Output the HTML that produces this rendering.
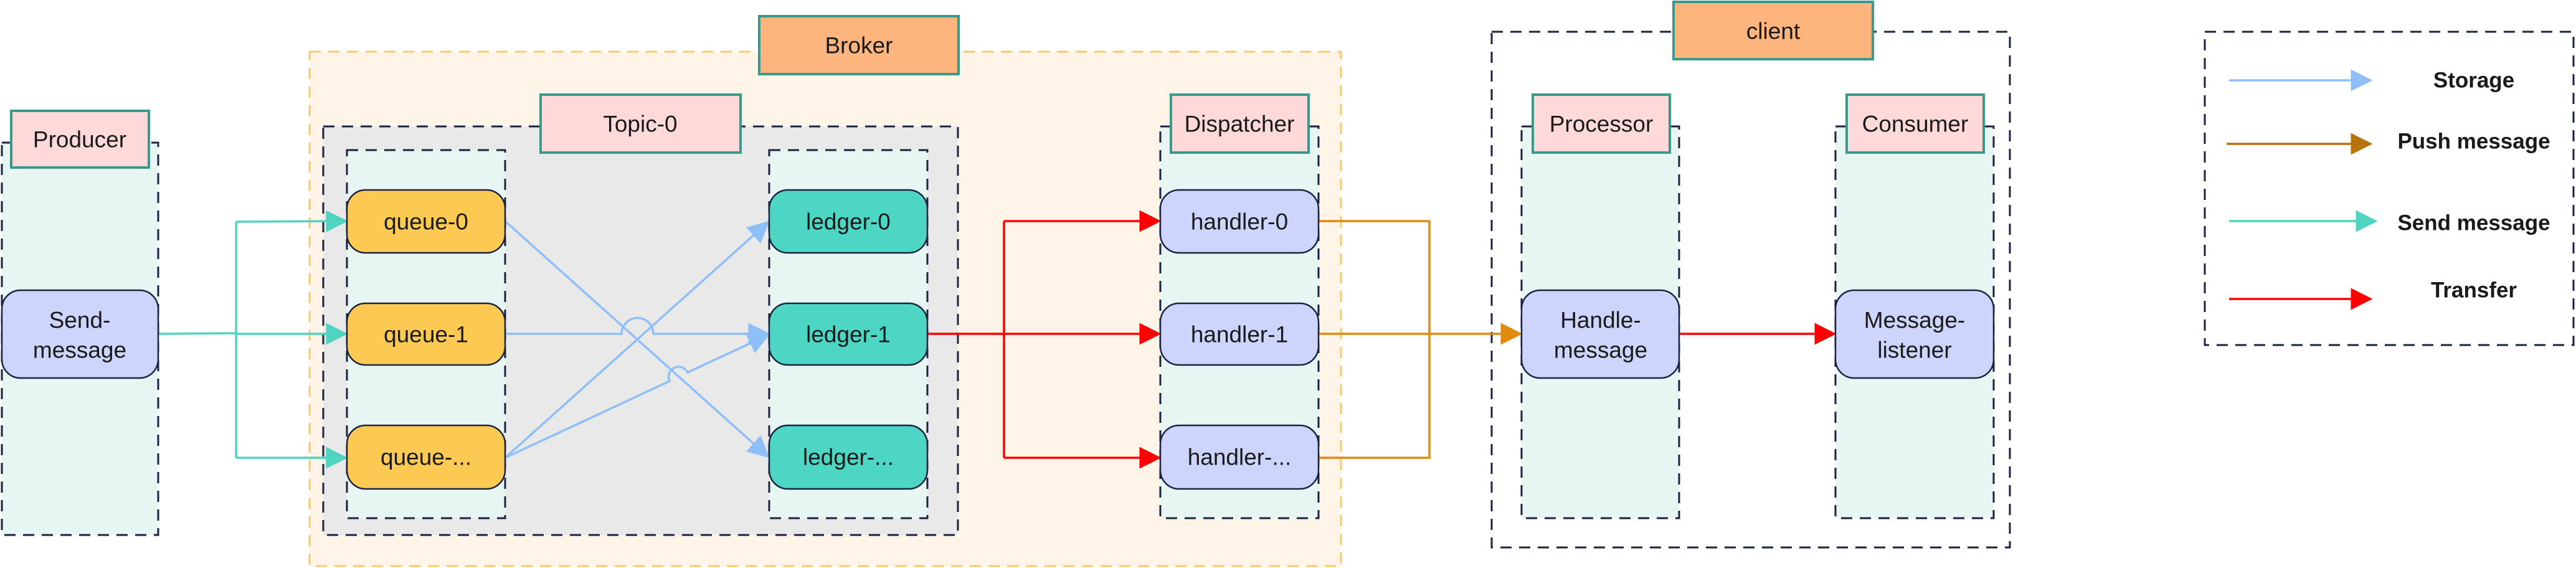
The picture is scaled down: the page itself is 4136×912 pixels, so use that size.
<!DOCTYPE html>
<html><head><meta charset="utf-8"><style>
html,body{margin:0;padding:0;background:#fff;}
svg{display:block;}
text{font-family:"Liberation Sans",sans-serif;fill:#1a1a1a;}
</style></head><body>
<svg width="4136" height="912" viewBox="0 0 4136 912" xmlns="http://www.w3.org/2000/svg">
<defs>
<marker id="mb" markerWidth="10" markerHeight="10" refX="9" refY="5" orient="auto" viewBox="0 0 10 10"><path d="M0,0 L10,5 L0,10z" fill="#8fbff8"/></marker>
<marker id="mt" markerWidth="10" markerHeight="10" refX="9" refY="5" orient="auto" viewBox="0 0 10 10"><path d="M0,0 L10,5 L0,10z" fill="#4ed4c0"/></marker>
<marker id="mr" markerWidth="10" markerHeight="10" refX="9" refY="5" orient="auto" viewBox="0 0 10 10"><path d="M0,0 L10,5 L0,10z" fill="#ff0000"/></marker>
<marker id="mo" markerWidth="10" markerHeight="10" refX="9" refY="5" orient="auto" viewBox="0 0 10 10"><path d="M0,0 L10,5 L0,10z" fill="#e08a10"/></marker>
<marker id="mp" markerWidth="10" markerHeight="10" refX="9" refY="5" orient="auto" viewBox="0 0 10 10"><path d="M0,0 L10,5 L0,10z" fill="#b8730f"/></marker>
</defs>
<g stroke-dasharray="18,12" stroke-width="3">
<rect x="497" y="83" width="1656" height="826" fill="#fef4e8" stroke="#fcc86a"/>
<rect x="3" y="229" width="251" height="630" fill="#e8f6f3" stroke="#1a2340"/>
<rect x="519" y="203" width="1019" height="656" fill="#e9e9e9" stroke="#1a2340"/>
<rect x="557" y="241" width="254" height="591" fill="#e8f6f3" stroke="#1a2340"/>
<rect x="1235" y="241" width="254" height="591" fill="#e8f6f3" stroke="#1a2340"/>
<rect x="1863" y="203" width="254" height="629" fill="#e8f6f3" stroke="#1a2340"/>
<rect x="2395" y="51" width="832" height="828" fill="none" stroke="#1a2340"/>
<rect x="2443" y="203" width="253" height="629" fill="#e8f6f3" stroke="#1a2340"/>
<rect x="2947" y="203" width="254" height="629" fill="#e8f6f3" stroke="#1a2340"/>
<rect x="3540" y="51" width="592" height="503" fill="none" stroke="#1a2340"/>
</g>
<g stroke="#3a9a8a" stroke-width="4">
<rect x="1219" y="26" width="320" height="93" fill="#fdb47d"/>
<rect x="2687" y="3" width="320" height="92" fill="#fdb47d"/>
<rect x="18" y="178" width="221" height="91" fill="#fdd9d9"/>
<rect x="868" y="152" width="321" height="93" fill="#fdd9d9"/>
<rect x="1880" y="152" width="221" height="93" fill="#fdd9d9"/>
<rect x="2461" y="152" width="220" height="93" fill="#fdd9d9"/>
<rect x="2965" y="152" width="220" height="93" fill="#fdd9d9"/>
</g>
<g font-size="37" text-anchor="middle" dominant-baseline="central">
<text x="1379" y="73">Broker</text>
<text x="2847" y="50">client</text>
<text x="128" y="224">Producer</text>
<text x="1028" y="199">Topic-0</text>
<text x="1990" y="199">Dispatcher</text>
<text x="2571" y="199">Processor</text>
<text x="3075" y="199">Consumer</text>
</g>
<g fill="none" stroke-width="3.5">
<path d="M254,536 L379,535 M379,356 L379,735" stroke="#4ed4c0"/>
<line x1="379" y1="356" x2="555" y2="355" stroke="#4ed4c0" marker-end="url(#mt)"/>
<line x1="379" y1="536" x2="555" y2="536" stroke="#4ed4c0" marker-end="url(#mt)"/>
<line x1="379" y1="735" x2="555" y2="735" stroke="#4ed4c0" marker-end="url(#mt)"/>
<line x1="811" y1="355" x2="1233" y2="733" stroke="#8fbff8" marker-end="url(#mb)"/>
<path d="M811,536 L998,536 A25,25 0 0 1 1049,536 L1233,536" stroke="#8fbff8" marker-end="url(#mb)"/>
<line x1="811" y1="735" x2="1233" y2="357" stroke="#8fbff8" marker-end="url(#mb)"/>
<path d="M811,735 L1075,612 A16,16 0 0 1 1104,598 L1233,538" stroke="#8fbff8" marker-end="url(#mb)"/>
<path d="M1489,536 L1612,536 M1612,355 L1612,735" stroke="#ff0000"/>
<line x1="1612" y1="355" x2="1861" y2="355" stroke="#ff0000" marker-end="url(#mr)"/>
<line x1="1612" y1="536" x2="1861" y2="536" stroke="#ff0000" marker-end="url(#mr)"/>
<line x1="1612" y1="735" x2="1861" y2="735" stroke="#ff0000" marker-end="url(#mr)"/>
<path d="M2117,355 L2295,355 L2295,735 L2117,735 M2117,536 L2295,536" stroke="#e08a10"/>
<line x1="2295" y1="536" x2="2441" y2="536" stroke="#e08a10" marker-end="url(#mo)"/>
<line x1="2696" y1="536" x2="2945" y2="536" stroke="#ff0000" marker-end="url(#mr)"/>
<line x1="3579" y1="129" x2="3806" y2="129" stroke="#8fbff8" marker-end="url(#mb)"/>
<line x1="3575" y1="231" x2="3806" y2="231" stroke="#b8730f" marker-end="url(#mp)"/>
<line x1="3579" y1="355" x2="3814" y2="355" stroke="#4ed4c0" marker-end="url(#mt)"/>
<line x1="3579" y1="480" x2="3806" y2="480" stroke="#ff0000" marker-end="url(#mr)"/>
</g>
<g stroke="#1a2340" stroke-width="2.5">
<rect x="3" y="466" width="251" height="141" rx="30" fill="#cdd5fc"/>
<rect x="557" y="305" width="254" height="101" rx="30" fill="#fcca52"/>
<rect x="557" y="487" width="254" height="99" rx="30" fill="#fcca52"/>
<rect x="557" y="683" width="254" height="102" rx="30" fill="#fcca52"/>
<rect x="1235" y="305" width="254" height="101" rx="30" fill="#4dd6c4"/>
<rect x="1235" y="487" width="254" height="99" rx="30" fill="#4dd6c4"/>
<rect x="1235" y="683" width="254" height="102" rx="30" fill="#4dd6c4"/>
<rect x="1863" y="305" width="254" height="101" rx="30" fill="#cdd5fc"/>
<rect x="1863" y="487" width="254" height="99" rx="30" fill="#cdd5fc"/>
<rect x="1863" y="683" width="254" height="102" rx="30" fill="#cdd5fc"/>
<rect x="2443" y="466" width="253" height="141" rx="30" fill="#cdd5fc"/>
<rect x="2947" y="466" width="254" height="141" rx="30" fill="#cdd5fc"/>
</g>
<g font-size="37" text-anchor="middle" dominant-baseline="central">
<text x="128" y="514">Send-</text><text x="128" y="562">message</text>
<text x="684" y="356">queue-0</text>
<text x="684" y="537">queue-1</text>
<text x="684" y="734">queue-...</text>
<text x="1362" y="356">ledger-0</text>
<text x="1362" y="537">ledger-1</text>
<text x="1362" y="734">ledger-...</text>
<text x="1990" y="356">handler-0</text>
<text x="1990" y="537">handler-1</text>
<text x="1990" y="734">handler-...</text>
<text x="2570" y="514">Handle-</text><text x="2570" y="562">message</text>
<text x="3074" y="514">Message-</text><text x="3074" y="562">listener</text>
</g>
<g font-size="35" font-weight="bold" text-anchor="middle" dominant-baseline="central">
<text x="3972" y="129">Storage</text>
<text x="3972" y="227">Push message</text>
<text x="3972" y="358">Send message</text>
<text x="3972" y="466">Transfer</text>
</g>
</svg>
</body></html>
